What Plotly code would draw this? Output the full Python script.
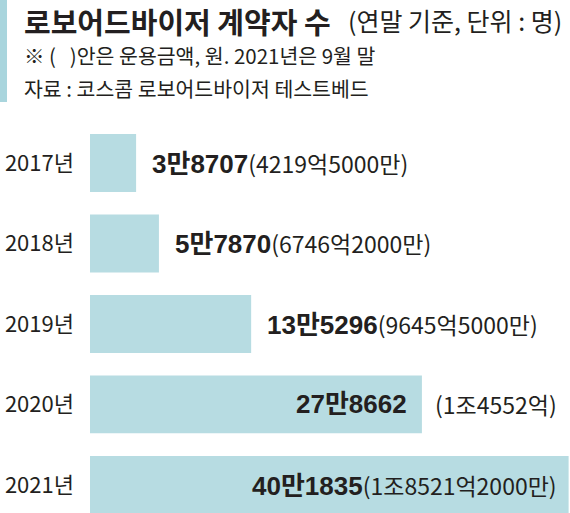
import plotly.graph_objects as go

# data
years = ["2017년", "2018년", "2019년", "2020년", "2021년"]
accounts = [38707, 57870, 135296, 278662, 401835]
amounts = ["(4219억5000만)", "(6746억2000만)", "(9645억5000만)", "(1조4552억)", "(1조8521억2000만)"]

title_main = "로보어드바이저 계약자 수"
title_unit = "(연말 기준, 단위 : 명)"
note_line = "※ (   )안은 운용금액, 원. 2021년은 9월 말"
source_line = "자료 : 코스콤 로보어드바이저 테스트베드"

bar_color = "#b7dce2"
ink = "#231f20"
kr = "Noto Sans CJK KR"


def man(v):
    return f"{v // 10000}만{v % 10000}"


def bold(s):
    return (f'<b><span style="font-family:Liberation Sans, Noto Sans CJK KR;'
            f'font-size:26px">{s}</span></b>')


fig = go.Figure(go.Bar(
    x=accounts, y=years, orientation="h",
    marker=dict(color=bar_color, line=dict(width=0)),
    width=0.72, hoverinfo="skip",
))

annotations = []
for i, (yr, v, amt) in enumerate(zip(years, accounts, amounts)):
    lab = dict(x=v, y=yr, xref="x", yref="y", showarrow=False, yanchor="middle",
               font=dict(family=kr, size=23, color=ink))
    if v < 200000:
        annotations.append(dict(lab, text=bold(man(v)) + amt, xanchor="left", xshift=14))
    elif i == len(years) - 1:
        annotations.append(dict(lab, text=bold(man(v)) + amt, xanchor="right", xshift=-10))
    else:
        annotations.append(dict(lab, text=bold(man(v)), xanchor="right", xshift=-13))
        annotations.append(dict(lab, text=amt, xanchor="left", xshift=11))

# header block
head = dict(xref="paper", yref="paper", x=0, y=1, showarrow=False,
            xanchor="left", yanchor="middle")
annotations += [
    dict(head, text=f"<b>{title_main}</b>", xshift=-68, yshift=101,
         font=dict(family=kr, size=29, color=ink)),
    dict(head, text=title_unit, xshift=256, yshift=102,
         font=dict(family=kr, size=25, color=ink)),
    dict(head, text=note_line, xshift=-68, yshift=67,
         font=dict(family=kr, size=20.5, color=ink)),
    dict(head, text=source_line, xshift=-68, yshift=34,
         font=dict(family=kr, size=20.5, color=ink)),
]

fig.update_layout(
    width=570, height=513,
    margin=dict(l=90, r=0, t=122, b=0, autoexpand=False),
    paper_bgcolor="white", plot_bgcolor="white",
    showlegend=False,
    annotations=annotations,
    # left accent strip beside the header
    shapes=[dict(type="rect", xref="paper", yref="paper",
                 xsizemode="pixel", ysizemode="pixel", xanchor=0, yanchor=1,
                 x0=-90, x1=-83, y0=20, y1=122,
                 line=dict(width=0), fillcolor="#a9d5dd", layer="above")],
    xaxis=dict(range=[0, 403000], visible=False, fixedrange=True, automargin=False),
    yaxis=dict(type="category", categoryorder="array", categoryarray=years,
               range=[4.35, -0.51], showgrid=False, zeroline=False, showline=False,
               ticks="", ticklabelstandoff=15, automargin=False,
               tickfont=dict(family=kr, size=22, color=ink)),
)

fig.write_html("out.html", config={"displayModeBar": False},
               post_script="document.body.style.margin='0';document.body.style.overflow='hidden';")
